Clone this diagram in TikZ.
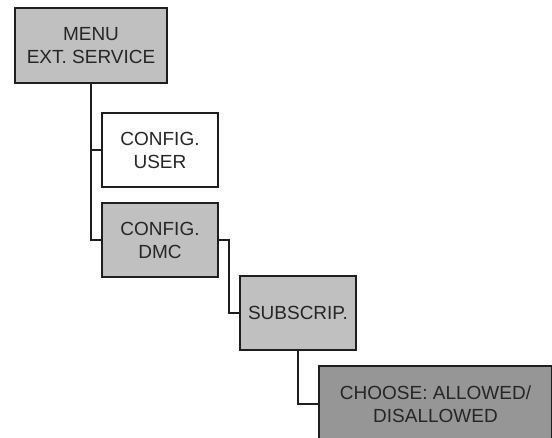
\documentclass[tikz,border=0pt]{standalone}
\usepackage{fontspec}
\setmainfont{Liberation Sans}
\usetikzlibrary{positioning}

\definecolor{boxlight}{HTML}{C0C0C0}
\definecolor{boxdark}{HTML}{969696}
\definecolor{edge}{HTML}{1E1E1E}

\tikzset{
  menubox/.style={draw=edge, line width=2pt, align=center, inner sep=0pt,
    font=\fontsize{19}{23}\selectfont, text=black!85},
  link/.style={draw=edge, line width=2pt}
}

\begin{document}
\begin{tikzpicture}[x=1pt, y=-1pt, line join=miter]
\useasboundingbox (0,0) rectangle (552,438);
\clip (0,0) rectangle (552,438);
% menu tree
\node[menubox, fill=boxlight, minimum width=152pt, minimum height=75pt] (menu) at (91,45.5) {MENU\\EXT. SERVICE};
\node[menubox, fill=white, minimum width=116pt, minimum height=74pt] (user) at (160,150) {CONFIG.\\USER};
\node[menubox, fill=boxlight, minimum width=116pt, minimum height=74pt] (dmc) at (160,240) {CONFIG.\\DMC};
\node[menubox, fill=boxlight, minimum width=116pt, minimum height=74pt] (subscrip) at (298,313) {SUBSCRIP.};
\node[menubox, fill=boxdark, minimum width=233pt, minimum height=76pt] (choose) at (435.5,404) {CHOOSE: ALLOWED/\\DISALLOWED};
% connectors
\draw[link] (menu.south) |- (dmc.west);
\draw[link] (menu.south |- user.west) -- (user.west);
\draw[link] (dmc.east) -- ++(10,0) |- (subscrip.west);
\draw[link] (subscrip.south) |- (choose.west);
\end{tikzpicture}
\end{document}
